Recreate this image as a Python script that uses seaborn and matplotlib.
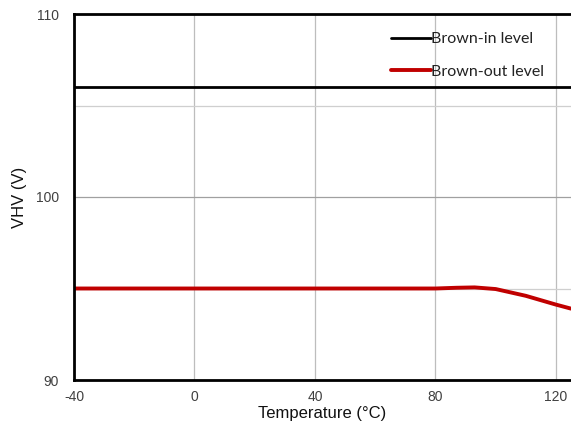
import matplotlib
matplotlib.use("Agg")
import matplotlib.pyplot as plt
import seaborn as sns
import pandas as pd
from matplotlib.ticker import MultipleLocator

temps_in = [-40, 125]
brown_in = [106.0, 106.0]
temps_out = [-40, -20, 0, 20, 40, 60, 80, 87, 93, 100, 110, 120, 125]
brown_out = [95.0, 95.0, 95.0, 95.0, 95.0, 95.0, 95.0, 95.04, 95.06, 94.97, 94.6, 94.12, 93.9]
x_ticks = [-40, 0, 40, 80, 120]
y_ticks = [90, 100, 110]

sns.set_style("white")
plt.rcParams['font.family'] = ['Liberation Sans', 'DejaVu Sans']
plt.rcParams['axes.unicode_minus'] = False

fig = plt.figure(figsize=(5.71, 4.29), dpi=100)
ax = fig.add_axes([74/571, 49/429, 1 - 74/571, (380-14)/429])

df_in = pd.DataFrame({"T": temps_in, "V": brown_in})
df_out = pd.DataFrame({"T": temps_out, "V": brown_out})

ax.set_xlim(-40, 125)
ax.set_ylim(90, 110)
ax.set_xticks(x_ticks)
ax.set_yticks(y_ticks)
ax.yaxis.set_minor_locator(MultipleLocator(5))
ax.grid(True, which='major', axis='x', color='#bdbdbd', linewidth=0.9)
ax.grid(True, which='major', axis='y', color='#a0a0a0', linewidth=0.9)
ax.grid(True, which='minor', axis='y', color='#cfcfcf', linewidth=0.9)
ax.set_axisbelow(True)

sns.lineplot(data=df_in, x="T", y="V", ax=ax, color='black', linewidth=2.0, label='Brown-in level')
sns.lineplot(data=df_out, x="T", y="V", ax=ax, color='#c00000', linewidth=2.8, label='Brown-out level')

for s in ['left', 'top', 'bottom']:
    ax.spines[s].set_linewidth(2.0)
    ax.spines[s].set_color('black')
ax.spines['right'].set_visible(False)

ax.tick_params(axis='both', which='both', length=0, labelsize=10, colors='#404040')
ax.tick_params(axis='x', pad=7.5)
ax.tick_params(axis='y', pad=11)
ax.set_xlabel("Temperature (°C)", fontsize=12, color='#111111', labelpad=1)
ax.set_ylabel("VHV (V)", fontsize=12, color='#111111', labelpad=6)

leg = ax.legend(loc='upper right', frameon=False,
                prop={'family': ['Lato', 'DejaVu Sans'], 'size': 11.5},
                handlelength=2.5, handletextpad=0.0, labelspacing=1.15,
                bbox_to_anchor=(0.975, 0.99))
for t in leg.get_texts():
    t.set_color('#222222')

fig.savefig("out.png", dpi=100)
